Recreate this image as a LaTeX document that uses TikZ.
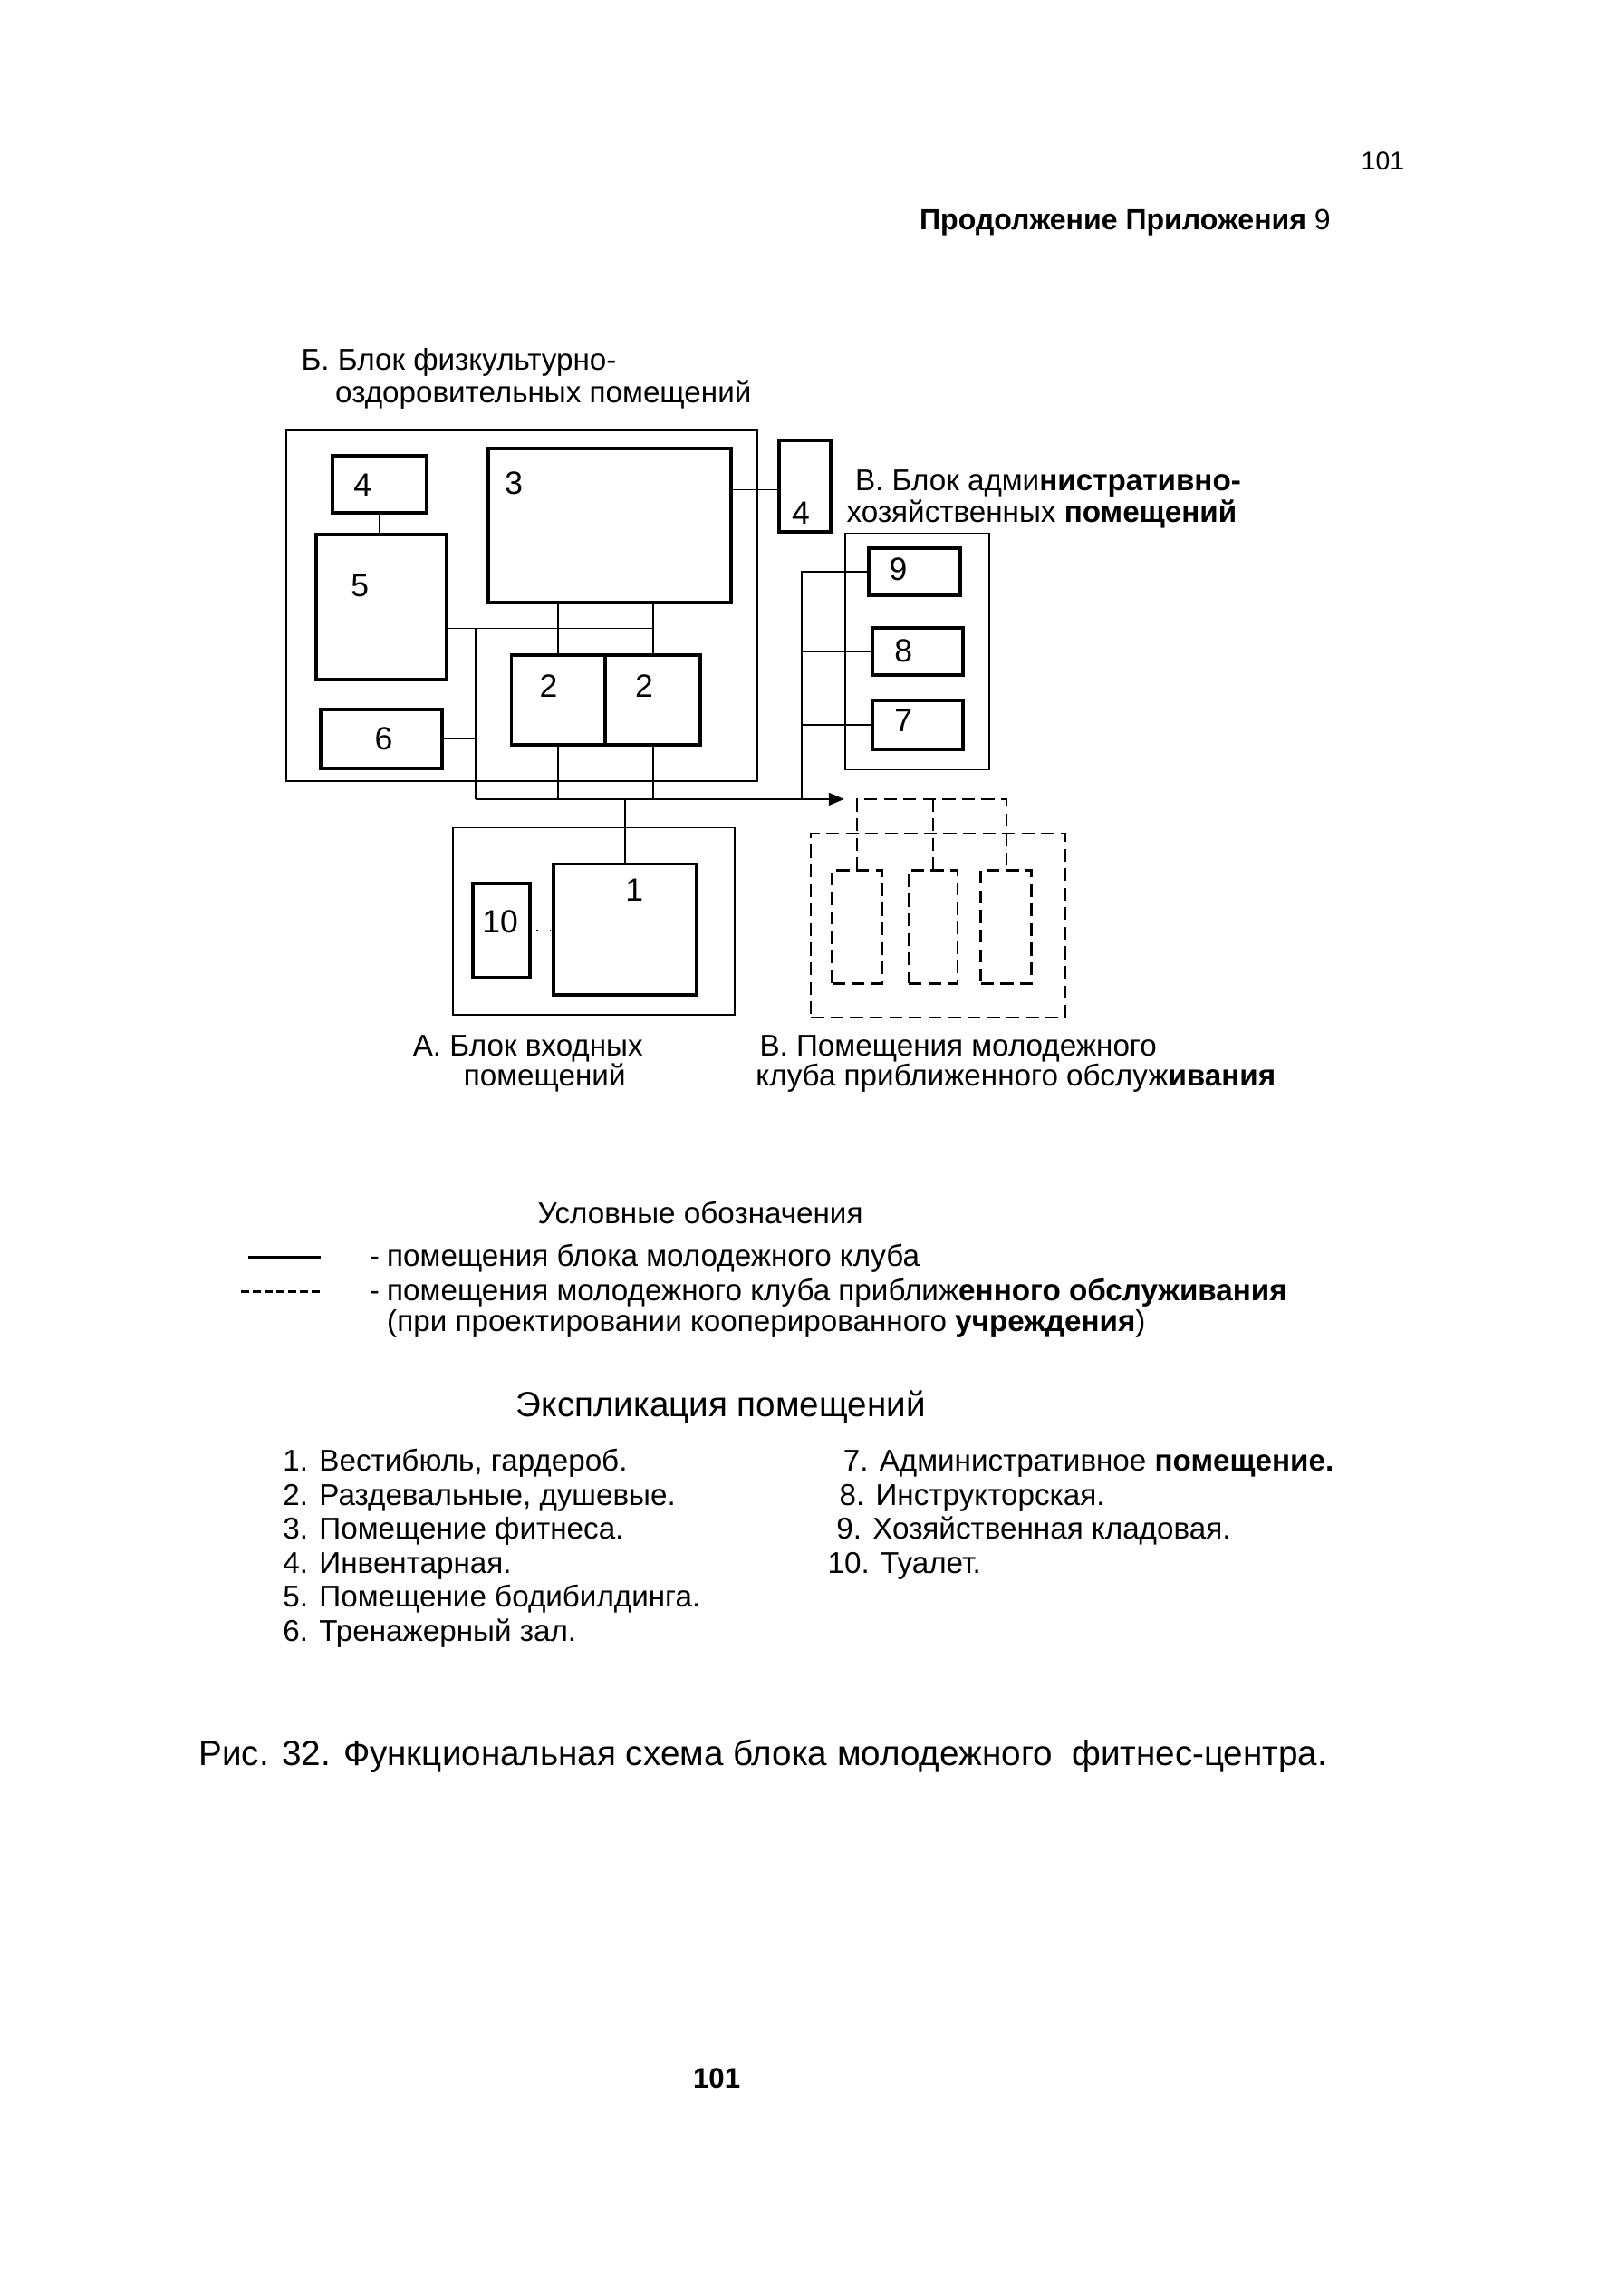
\documentclass[tikz,border=0pt]{standalone}
\usepackage{fontspec}
\setmainfont{Liberation Sans}
\usetikzlibrary{arrows.meta,calc}
\newcommand{\mkroom}[6]{%
  \node[#2, inner sep=0pt, outer sep=0pt, minimum width={(#5-#3)*0.02cm}, minimum height={(#6-#4)*0.02cm}] (#1) at ({(#3+#5)/2},{(#4+#6)/2}) {};}
\begin{document}
\begin{tikzpicture}[x=0.02cm,y=-0.02cm,
  room/.style={draw, line width=1.4pt},
  block/.style={draw, line width=0.6pt},
  link/.style={draw, line width=0.6pt},
  bus/.style={draw, line width=0.75pt},
  dshO/.style={draw, line width=0.7pt, dash pattern=on 5pt off 2.6pt},
  dshI/.style={draw, line width=1.0pt, dash pattern=on 5pt off 2.6pt},
  t/.style={anchor=base west, inner sep=0pt, font=\fontsize{11.7}{14}\selectfont},
  tb/.style={anchor=base west, inner sep=0pt, font=\fontsize{13.6}{16}\selectfont},
  n/.style={inner sep=0pt, font=\fontsize{12.5}{14}\selectfont}]
\useasboundingbox (0,0) rectangle (1098,1568);

% header
\node[anchor=base west, inner sep=0pt, font=\fontsize{10}{12}\selectfont] (pgtop) at (929.5,116) {101};
\node[anchor=base west, inner sep=0pt, font=\fontsize{11.3}{14}\selectfont] (hdr) at (627.8,156.6) {\textbf{Продолжение Приложения} 9};

% block B labels
\node[t] (lbB1) at (205.5,252.5) {Б. Блок физкультурно-};
\node[t] (lbB2) at (228.7,275.2) {оздоровительных помещений};

% rooms
\mkroom{bB}{block}{195.6}{294}{517.2}{533.3}
\mkroom{b4}{room}{227.2}{311.5}{291.3}{350.3}
\mkroom{b5}{room}{216.2}{365.2}{305}{463.8}
\mkroom{b6}{room}{218.8}{484.4}{301.7}{524.6}
\mkroom{b3}{room}{333.3}{306.4}{499.1}{411.6}
\mkroom{b2a}{room}{349.3}{447.3}{413.4}{508.6}
\mkroom{b2b}{room}{413.4}{447.3}{478.6}{508.6}
\mkroom{b4r}{room}{532.2}{300.8}{567.2}{363.1}
\mkroom{bV}{block}{577.5}{364.1}{675.5}{525.7}
\mkroom{b9}{room}{593.3}{374.5}{656}{406.8}
\mkroom{b8}{room}{596.1}{429}{657.7}{461.1}
\mkroom{b7}{room}{596.1}{478.6}{657.7}{511.7}
\mkroom{bA}{block}{309.2}{565.3}{502}{693.2}
\mkroom{b10}{room}{322.7}{603.5}{362.2}{667.4}
\mkroom{b1}{room}{378}{590}{475.9}{679.2}
\mkroom{bD}{dshO}{554}{569.4}{727.8}{694.9}
\mkroom{d1}{dshI}{568.4}{594.2}{602.4}{671.5}
\mkroom{d2}{dshI}{620.6}{594.2}{654}{671.5}
\mkroom{d3}{dshI}{670}{594.2}{704.5}{671.5}

% room numbers
\node[n] (n4) at (247.6,331) {4};
\node[n] (n5) at (245.8,400.3) {5};
\node[n] (n3) at (351,330) {3};
\node[n] (n6) at (262,504.4) {6};
\node[n] (n2a) at (374.7,468.3) {2};
\node[n] (n2b) at (439.9,468.3) {2};
\node[n] (n4r) at (547,350.7) {4};
\node[n] (n9) at (613.5,388.9) {9};
\node[n] (n8) at (617,444.6) {8};
\node[n] (n7) at (617,492) {7};
\node[n] (n10) at (341.6,629.3) {10};
\node[n] (n1) at (433.3,607.6) {1};

% connectors
\coordinate (jL) at (325,429.1);
\coordinate (busL) at (325,545.7);
\coordinate (busR) at (576.6,545.7);
\coordinate (aB) at (547.5,545.7);
\coordinate (dT) at (586,545.7);
\coordinate (c3) at ($(b3.north east)!0.267!(b3.south east)$);

\draw[link] (b4.south) -- (b4.south |- b5.north);
\draw[link] (b5.east |- jL) -- (b2b.north |- jL);
\draw[link] (jL) -- (busL);
\draw[link] (b6.east) -- (b6.east -| jL);
\draw[link] (b2a.north) -- (b2a.north |- b3.south);
\draw[link] (b2b.north) -- (b2b.north |- b3.south);
\draw[link] (b2a.south) -- (b2a.south |- busL);
\draw[link] (b2b.south) -- (b2b.south |- busL);
\draw[link] (b1.north) -- (b1.north |- busL);
\draw[link] (c3) -- (c3 -| b4r.west);
\draw[line width=0.5pt, dotted] (b10.east) -- (b10.east -| b1.west);
\draw[link] (b9.west) -| (aB);
\draw[link] (b8.west) -- (b8.west -| aB);
\draw[link] (b7.west) -- (b7.west -| aB);
\draw[bus, -{Triangle[length=0.21cm,width=0.17cm]}] (busL) -- (busR);
\draw[dshO] (d1.north) -- (d1.north |- dT) -- (d3.north |- dT) -- (d3.north);
\draw[dshO] (d2.north) -- (d2.north |- dT);

% block labels
\node[t] (lbV1) at (583.8,335) {В. Блок адми\textbf{нистративно-}};
\node[t] (lbV2) at (578,356.7) {хозяйственных \textbf{помещений}};
\node[t] (lbA1) at (281.7,721) {А. Блок входных};
\node[t] (lbA2) at (316.4,741.5) {помещений};
\node[t] (lbD1) at (518.5,721) {В. Помещения молодежного};
\node[t] (lbD2) at (516,741.5) {клуба приближенного обслуж\textbf{ивания}};

% legend
\node[t] (lgT) at (367,835.4) {Условные обозначения};
\coordinate (ls1) at (169.6,859);
\coordinate (ls2) at (219,859);
\draw[line width=1.5pt] (ls1) -- (ls2);
\node[t] (lgd1) at (252,865) {-};
\node[t] (lg1) at (264,865) {помещения блока молодежного клуба};
\coordinate (ld1) at (164.6,882);
\coordinate (ld2) at (219,882);
\draw[line width=0.8pt, dash pattern=on 3pt off 1.6pt] (ld1) -- (ld2);
\node[t] (lgd2) at (252,888) {-};
\node[t] (lg2) at (264,888) {помещения молодежного клуба приближ\textbf{енного обслуживания}};
\node[t] (lg3) at (264,909.6) {(при проектировании кооперированного \textbf{учреждения})};

% explication
\node[tb] (exT) at (352.3,967.5) {Экспликация помещений};
\node[t] (e1) at (193,1004.5) {1. Вестибюль, гардероб.};
\node[t] (e2) at (193,1028.3) {2. Раздевальные, душевые.};
\node[t] (e3) at (193,1051) {3. Помещение фитнеса.};
\node[t] (e4) at (193,1074.7) {4. Инвентарная.};
\node[t] (e5) at (193,1097.4) {5. Помещение бодибилдинга.};
\node[t] (e6) at (193,1121.1) {6. Тренажерный зал.};
\node[t] (e7) at (575.6,1004.5) {7. Административное \textbf{помещение.}};
\node[t] (e8) at (573,1028.3) {8. Инструкторская.};
\node[t] (e9) at (571,1051) {9. Хозяйственная кладовая.};
\node[t] (e10) at (565,1074.7) {10. Туалет.};

% caption
\node[tb] (cap) at (135.4,1205.5) {Рис. 32. Функциональная схема блока молодежного\ \ фитнес-центра.};

% bottom page number
\node[anchor=base, inner sep=0pt, font=\fontsize{11}{13}\selectfont\bfseries] (pgbot) at (489.5,1426) {101};
\end{tikzpicture}
\end{document}
